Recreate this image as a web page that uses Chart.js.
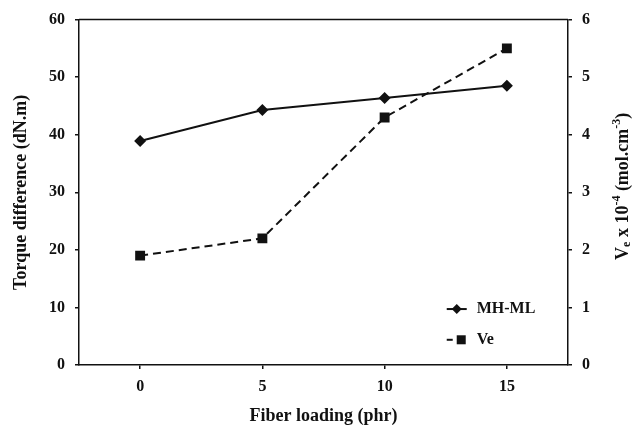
<!DOCTYPE html>
<html>
<head>
<meta charset="utf-8">
<script src="https://cdn.jsdelivr.net/npm/chart.js@4"></script>
<style>
  html, body { margin: 0; padding: 0; background: #fff; }
  #wrap { width: 637px; height: 427px; }
</style>
</head>
<body>
<div id="wrap"><canvas id="c" width="637" height="427"></canvas></div>
<script>
const fiberLoading = [0, 5, 10, 15];
const torqueDiff = [38.9, 44.3, 46.4, 48.5];
const veValues = [1.9, 2.2, 4.3, 5.5];
const xTicks = [0, 5, 10, 15];
const leftTicks = [0, 10, 20, 30, 40, 50, 60];
const rightTicks = [0, 1, 2, 3, 4, 5, 6];
const seriesNames = ['MH-ML', 'Ve'];

const FONT = '"Liberation Serif", "Times New Roman", serif';
const INK = '#111';

const frameAndLabels = {
  id: 'frameAndLabels',
  afterDatasetsDraw(chart) {
    const ctx = chart.ctx;
    const a = chart.chartArea;
    ctx.save();
    // top frame line
    ctx.strokeStyle = INK;
    ctx.lineWidth = 1.5;
    ctx.beginPath();
    ctx.moveTo(a.left, a.top);
    ctx.lineTo(a.right, a.top);
    ctx.stroke();

    // legend (inside plot area)
    const lx = a.left + (a.right - a.left) * 0.752;
    const ly1 = a.top + (a.bottom - a.top) * 0.838;
    const ly2 = a.top + (a.bottom - a.top) * 0.927;
    ctx.fillStyle = INK;
    ctx.strokeStyle = INK;
    ctx.lineWidth = 2;
    // MH-ML sample
    ctx.setLineDash([]);
    ctx.beginPath();
    ctx.moveTo(lx, ly1);
    ctx.lineTo(lx + 20, ly1);
    ctx.stroke();
    ctx.beginPath();
    ctx.moveTo(lx + 10, ly1 - 5);
    ctx.lineTo(lx + 15, ly1);
    ctx.lineTo(lx + 10, ly1 + 5);
    ctx.lineTo(lx + 5, ly1);
    ctx.closePath();
    ctx.fill();
    // Ve sample
    ctx.beginPath();
    ctx.moveTo(lx, ly2);
    ctx.lineTo(lx + 6, ly2);
    ctx.stroke();
    ctx.fillRect(lx + 10, ly2 - 4.5, 9, 9);
    ctx.font = 'bold 16px ' + FONT;
    ctx.textBaseline = 'middle';
    ctx.textAlign = 'left';
    ctx.fillText(seriesNames[0], lx + 30, ly1);
    ctx.fillText(seriesNames[1], lx + 30, ly2);

    // right axis title: V_e x 10^-4 (mol.cm^-3), reading bottom to top
    const cx = 623;
    const cy = (a.top + a.bottom) / 2 - 6;
    const big = 'bold 18px ' + FONT;
    const small = 'bold 12px ' + FONT;
    const parts = [
      { t: 'V', f: big, dy: 0 },
      { t: 'e', f: small, dy: 4 },
      { t: ' x 10', f: big, dy: 0 },
      { t: '-4', f: small, dy: -6 },
      { t: ' (mol.cm', f: big, dy: 0 },
      { t: '-3', f: small, dy: -6 },
      { t: ')', f: big, dy: 0 }
    ];
    let total = 0;
    parts.forEach(p => { ctx.font = p.f; p.w = ctx.measureText(p.t).width; total += p.w; });
    ctx.translate(cx, cy);
    ctx.rotate(-Math.PI / 2);
    let x = -total / 2;
    ctx.textBaseline = 'middle';
    parts.forEach(p => {
      ctx.font = p.f;
      ctx.fillText(p.t, x, p.dy);
      x += p.w;
    });
    ctx.restore();
  }
};

const tickFont = { family: FONT, size: 16, weight: 'bold' };
const titleFont = { family: FONT, size: 18, weight: 'bold' };

new Chart(document.getElementById('c'), {
  type: 'line',
  data: {
    datasets: [
      {
        label: seriesNames[0],
        data: fiberLoading.map((x, i) => ({ x: x, y: torqueDiff[i] })),
        yAxisID: 'y',
        borderColor: INK,
        backgroundColor: INK,
        borderWidth: 2,
        pointStyle: 'rectRot',
        pointRadius: 6,
        pointBorderWidth: 0,
        tension: 0
      },
      {
        label: seriesNames[1],
        data: fiberLoading.map((x, i) => ({ x: x, y: veValues[i] })),
        yAxisID: 'y1',
        borderColor: INK,
        backgroundColor: INK,
        borderWidth: 2,
        borderDash: [8, 5],
        pointStyle: 'rect',
        pointRadius: 7,
        pointBorderWidth: 0,
        tension: 0
      }
    ]
  },
  options: {
    responsive: false,
    animation: false,
    devicePixelRatio: 1,
    layout: { padding: { top: 18, left: 0, right: 0, bottom: 0 } },
    plugins: {
      legend: { display: false },
      tooltip: { enabled: false }
    },
    scales: {
      x: {
        type: 'linear',
        min: -2.5,
        max: 17.5,
        afterBuildTicks: s => { s.ticks = xTicks.map(v => ({ value: v })); },
        afterFit: s => { s.height = 62; },
        border: { display: true, color: INK, width: 1.5 },
        grid: { display: true, drawOnChartArea: false, drawTicks: true, tickLength: 4, color: INK, lineWidth: 1.5 },
        ticks: { font: tickFont, color: INK, padding: 8, maxRotation: 0 },
        title: { display: true, text: 'Fiber loading (phr)', font: titleFont, color: INK, padding: { top: 0, bottom: 0 } }
      },
      y: {
        type: 'linear',
        position: 'left',
        min: 0,
        max: 60,
        afterBuildTicks: s => { s.ticks = leftTicks.map(v => ({ value: v })); },
        afterFit: s => { s.width = 79; },
        border: { display: true, color: INK, width: 1.5 },
        grid: { display: true, drawOnChartArea: false, drawTicks: true, tickLength: 4, color: INK, lineWidth: 1.5 },
        ticks: { font: tickFont, color: INK, padding: 10 },
        title: { display: true, text: 'Torque difference (dN.m)', font: titleFont, color: INK, padding: { top: 11, bottom: 0 } }
      },
      y1: {
        type: 'linear',
        position: 'right',
        min: 0,
        max: 6,
        afterBuildTicks: s => { s.ticks = rightTicks.map(v => ({ value: v })); },
        afterFit: s => { s.width = 69; },
        border: { display: true, color: INK, width: 1.5 },
        grid: { display: true, drawOnChartArea: false, drawTicks: true, tickLength: 4, color: INK, lineWidth: 1.5 },
        ticks: { font: tickFont, color: INK, padding: 10 }
      }
    }
  },
  plugins: [frameAndLabels]
});
</script>
</body>
</html>
